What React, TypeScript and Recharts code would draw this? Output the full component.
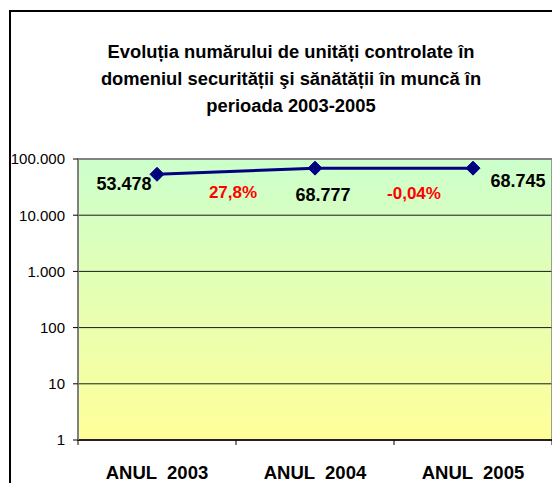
import React from 'react';
import { LineChart, Line, XAxis, YAxis, CartesianGrid, ReferenceArea, LabelList } from 'recharts';

const titleLines = [
  'Evoluția numărului de unități controlate în',
  'domeniul securității şi sănătății în muncă în',
  'perioada 2003-2005',
];
const categories = ['ANUL  2003', 'ANUL  2004', 'ANUL  2005'];
const values = [53478, 68777, 68745];
const valueLabels = ['53.478', '68.777', '68.745'];
const growthLabels = ['', '27,8%', '-0,04%'];
const yTicks = [1, 10, 100, 1000, 10000, 100000];
const yTickLabels = ['1', '10', '100', '1.000', '10.000', '100.000'];

const data = categories.map((c, i) => ({ x: i + 0.5, name: c, value: values[i] }));
const xTicks = [0, 0.5, 1, 1.5, 2, 2.5, 3];

// label offsets relative to the data point (layout only)
const valueOffsets = [
  [-33, 10],
  [8, 27],
  [45, 13],
];
const growthOffsets = [null, [-82, 24], [-59, 25]];

const FONT = "'Liberation Sans', Arial, sans-serif";

const Diamond = (props: any) => {
  const { cx, cy, index } = props;
  if (cx == null || cy == null) return <g key={index} />;
  const r = 7;
  return (
    <polygon
      key={index}
      points={`${cx},${cy - r} ${cx + r},${cy} ${cx},${cy + r} ${cx - r},${cy}`}
      fill="#000080"
      stroke="#000080"
    />
  );
};

const PointLabel = (props: any) => {
  const { x, y, index } = props;
  const vo = valueOffsets[index];
  const go = growthOffsets[index];
  return (
    <g>
      <text
        x={x + vo[0]}
        y={y + vo[1]}
        textAnchor="middle"
        dominantBaseline="central"
        fontFamily={FONT}
        fontWeight="bold"
        fontSize={18}
        fill="#000"
      >
        {valueLabels[index]}
      </text>
      {go && (
        <text
          x={x + go[0]}
          y={y + go[1]}
          textAnchor="middle"
          dominantBaseline="central"
          fontFamily={FONT}
          fontWeight="bold"
          fontSize={17}
          fill="#FF0000"
        >
          {growthLabels[index]}
        </text>
      )}
    </g>
  );
};

const XTick = (props: any) => {
  const { x, y, payload } = props;
  const v = payload.value;
  if (Number.isInteger(v)) {
    return <line x1={x} x2={x} y1={y - 7} y2={y - 2} stroke="#000" strokeWidth={1} />;
  }
  const i = Math.floor(v);
  return (
    <text
      x={x}
      y={y + 32}
      textAnchor="middle"
      fontFamily={FONT}
      fontWeight="bold"
      fontSize={18.5}
      fill="#000"
      style={{ whiteSpace: 'pre' }}
    >
      {categories[i]}
    </text>
  );
};

export default function App() {
  return (
    <div style={{ position: 'relative', width: 552, height: 475, overflow: 'hidden', background: '#fff' }}>
      <svg width={0} height={0} style={{ position: 'absolute' }}>
        <defs>
          <linearGradient id="plotGrad" x1="0" y1="0" x2="0" y2="1">
            <stop offset="0%" stopColor="#CCFFCC" />
            <stop offset="100%" stopColor="#FFFF99" />
          </linearGradient>
        </defs>
      </svg>
      <div
        style={{
          position: 'absolute',
          left: 1,
          top: 2,
          width: 700,
          height: 700,
          borderLeft: '2px solid #000',
          borderTop: '2px solid #000',
          boxSizing: 'border-box',
        }}
      />
      <div
        style={{
          position: 'absolute',
          left: 33,
          top: 30,
          width: 500,
          textAlign: 'center',
          fontFamily: FONT,
          fontWeight: 'bold',
          fontSize: 18.35,
          lineHeight: '27px',
          color: '#000',
        }}
      >
        {titleLines.map((t) => (
          <div key={t}>{t}</div>
        ))}
      </div>
      <div style={{ position: 'absolute', left: 0, top: 0 }}>
        <LineChart
          width={552}
          height={475}
          data={data}
          margin={{ top: 151, right: 8, bottom: 0, left: 0 }}
        >
          <CartesianGrid vertical={false} stroke="#1a1a1a" fill="url(#plotGrad)" fillOpacity={1} />
          <XAxis
            type="number"
            dataKey="x"
            domain={[0, 3]}
            ticks={xTicks}
            interval={0}
            height={43}
            tickSize={5}
            tickMargin={2}
            tickLine={false}
            axisLine={{ stroke: '#000', strokeWidth: 1.5 }}
            tick={<XTick />}
          />
          <YAxis
            scale="log"
            domain={[1, 100000]}
            ticks={yTicks}
            interval={0}
            allowDataOverflow
            width={70}
            tickSize={5}
            tickMargin={8}
            tickFormatter={(v: number) => yTickLabels[yTicks.indexOf(v)]}
            axisLine={{ stroke: '#808080', strokeWidth: 2 }}
            tickLine={{ stroke: '#000' }}
            tick={{ fill: '#000', fontSize: 15, fontFamily: FONT }}
          />
          <ReferenceArea
            x1={0}
            x2={3}
            y1={1}
            y2={100000}
            fill="none"
            stroke="#808080"
            strokeWidth={1.5}
            ifOverflow="visible"
          />
          <Line
            type="linear"
            dataKey="value"
            stroke="#000080"
            strokeWidth={3}
            dot={Diamond}
            activeDot={false}
            isAnimationActive={false}
          >
            <LabelList dataKey="value" content={PointLabel} />
          </Line>
        </LineChart>
      </div>
    </div>
  );
}
